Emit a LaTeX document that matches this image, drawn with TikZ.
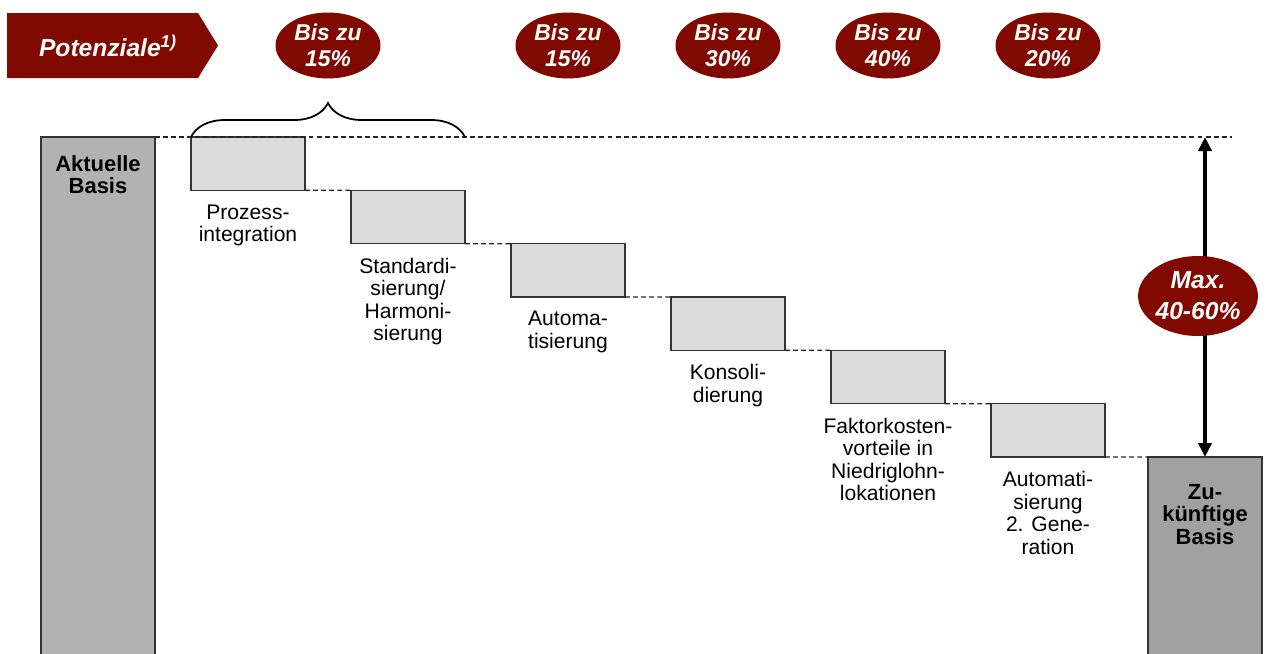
\documentclass[tikz,border=0pt]{standalone}
\usepackage{fontspec}
\setmainfont{Liberation Sans}
\usetikzlibrary{positioning,shapes.geometric,decorations.pathreplacing,arrows.meta}
\definecolor{potred}{RGB}{128,10,0}
\tikzset{stepbox/.style={draw=black!80,fill=black!14,line width=0.8pt,minimum width=2.28cm,minimum height=1.0667cm,anchor=north west,inner sep=0,outer sep=0}}
\tikzset{stepname/.style={align=center,font=\fontsize{12}{12.8}\selectfont,inner sep=0}}
\tikzset{basebar/.style={draw=black!80,line width=0.8pt,minimum width=2.28cm,anchor=north west,inner sep=0,outer sep=0}}
\tikzset{bartext/.style={align=center,font=\fontsize{12.5}{12.8}\selectfont\bfseries,inner sep=0}}
\tikzset{potoval/.style={ellipse,fill=potred,text=white,align=center,font=\fontsize{13}{15}\selectfont\bfseries\itshape,minimum width=2.1cm,minimum height=1.32cm,inner sep=0}}
\tikzset{dashline/.style={dash pattern=on 2.8pt off 1.8pt,line width=0.7pt,black!85}}

\begin{document}
\begin{tikzpicture}[x=0.02cm,y=-0.02cm]
	\useasboundingbox (0,0) rectangle (1278,653);
	\clip (0,0) rectangle (1278,653);
	\fill[potred] (7,13) -- (198,13) -- (218,45.5) -- (198,78) -- (7,78) -- cycle;
	\node[text=white,font=\fontsize{14}{16}\selectfont\bfseries\itshape,inner sep=0] (pot) at (108,45.5) {Potenziale\textsuperscript{1)}};
	\node[basebar,fill=black!30,minimum height=10.56cm] (ab) at (41,137) {};
	\node[bartext,below=0.36cm of ab.north] (abt) {Aktuelle\\Basis};
	\foreach \i in {1,...,6}{
		\node[stepbox] (s\i) at ({191+160*(\i-1)},{137+53.33*(\i-1)}) {};
	}
	\node[basebar,fill=black!37,minimum height=4.16cm] (zb) at (1148,457) {};
	\node[bartext,below=0.54cm of zb.north] (zbt) {Zu-\\künftige\\Basis};
	\foreach \i/\t in {1/{Prozess-\\integration},2/{Standardi-\\sierung/\\Harmoni-\\sierung},3/{Automa-\\tisierung},4/{Konsoli-\\dierung},5/{Faktorkosten-\\vorteile in\\Niedriglohn-\\lokationen},6/{Automati-\\sierung\\2. Gene-\\ration}}{
		\node[stepname,below=0.28cm of s\i] (l\i) {\t};
	}
	\coordinate (topend) at (1232,137);
	\draw[dashline] (ab.north east) -- (topend);
	\foreach \i [count=\j from 2] in {1,...,5}{
		\draw[dashline] (s\i.south east) -- (s\j.north west);
	}
	\draw[dashline] (s6.south east) -- (zb.north west);
	\draw[decorate,decoration={brace,amplitude=0.68cm},line width=1pt] (s1.north west) -- (s2.north east |- s1.north);
	\coordinate (atop) at (zb.north |- ab.north);
	\draw[{Triangle[length=0.28cm,width=0.26cm]}-{Triangle[length=0.28cm,width=0.26cm]},line width=2.2pt] (atop) -- (zb.north);
	\node[potoval,minimum width=2.36cm,minimum height=1.6cm,font=\fontsize{14}{17.5}\selectfont\bfseries\itshape] (mx) at (1198,296) {Max.\\40-60\%};
	\node[potoval] (p1) at (328,45.5) {Bis zu\\15\%};
	\foreach \i/\v in {3/15,4/30,5/40,6/20}{
		\node[potoval] (p\i) at (s\i |- pot) {Bis zu\\\v\%};
	}
\end{tikzpicture}
\end{document}
